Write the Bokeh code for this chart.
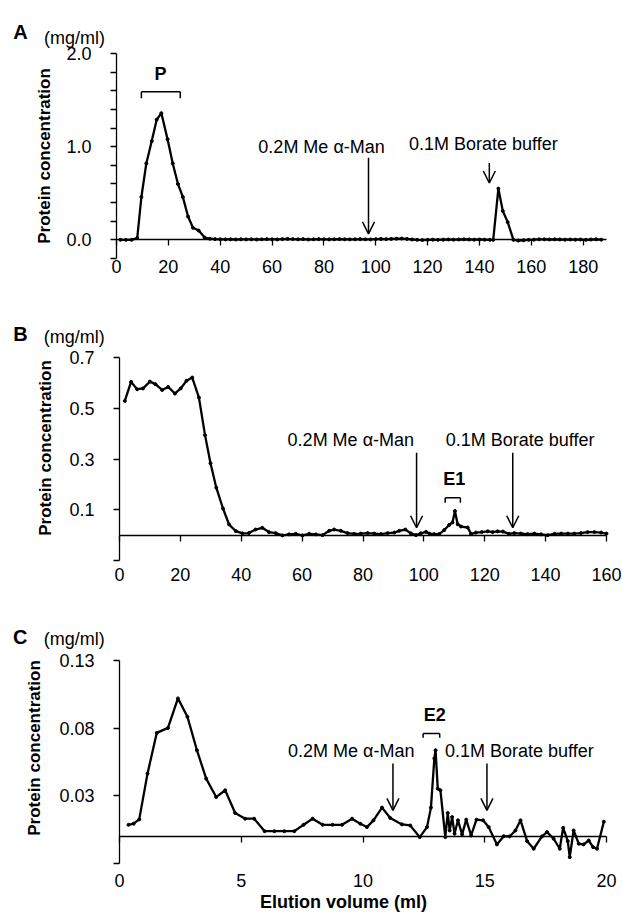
from bokeh.plotting import figure
from bokeh.layouts import column
from bokeh.models import (Range1d, FixedTicker, PrintfTickFormatter, Label, Arrow, OpenHead,
                          LinearAxis)
from bokeh.embed import file_html
from bokeh.resources import INLINE

FONT = "Liberation Sans"
W = 623

# ---------------- data ----------------
A_vol = [1.5, 3.6, 5.8, 8.0, 9.6, 11.5, 13.6, 15.5, 17.3, 19.7, 21.7, 23.7, 25.6, 27.6, 29.5, 31.7, 34.0,
         36, 38, 40, 42, 44, 46, 48, 50, 52, 54, 56, 58, 60, 62, 64, 66, 68, 70, 72, 74, 76, 78, 80, 82, 84,
         86, 88, 90, 92, 94, 96, 98, 100, 102, 104, 106, 108, 110, 112, 114, 116, 118, 120, 122, 124, 126,
         128, 130, 132, 134, 136, 138, 140, 142, 144,
         145.3, 147.3, 149.0, 150.9, 153.1, 155, 157, 159, 161, 163, 165, 167, 169, 171, 173, 175, 177, 179,
         181, 183, 185, 187]
A_conc = [0.0, 0.0, 0.0, 0.02, 0.46, 0.82, 1.06, 1.29, 1.36, 1.08, 0.82, 0.60, 0.46, 0.25, 0.13, 0.10, 0.025,
          0.012, 0.008, 0.006, 0.005, 0.006, 0.004, 0.006, 0.005, 0.006, 0.004,
          0.006, 0.008, 0.006, 0.005, 0.008, 0.010, 0.008, 0.006, 0.008, 0.004,
          0.006, 0.008, 0.006, 0.005, 0.006, 0.008, 0.006, 0.005, 0.006, 0.008,
          0.006, 0.005, 0.008, 0.010, 0.008, 0.010, 0.012, 0.014, 0.010, 0.004,
          0.0, -0.002, 0.0, 0.002, 0.0, 0.002, 0.004, 0.002, 0.004, 0.006,
          0.004, 0.002, 0.004, 0.002, 0.0,
          0.0, 0.55, 0.31, 0.19, 0.0, -0.008, -0.004, 0.0, 0.002, 0.006, 0.006, 0.004, 0.006, 0.004, 0.002,
          0.004, 0.002, 0.004, 0.0, 0.004, 0.006, 0.002]

B_vol = [1.75, 3.8, 5.8, 7.7, 10.0, 11.8, 14.0, 16.0, 18.2, 20.1, 22.0, 23.9, 26.1, 28.1, 29.9, 31.8, 34.0,
         36.0, 38.2, 40.4, 42.5, 44.7, 46.9, 49.1, 51.3, 53.5, 55.7, 57.9, 60.1, 62.3, 64.5, 66.7, 68.9, 70.5,
         72.7, 74.9, 77.1, 79.3, 81.5, 83.7, 85.9, 88.1, 90.3, 91.9, 93.9, 95.7, 97.4, 99.0, 100.7, 101.8,
         103.4, 105.0, 106.7, 108.3, 109.4, 110.2, 111.1, 112.2, 114.4, 115.5, 117.1, 119.0, 121.0, 122.6,
         124.2, 126.0, 128.0, 129.7, 131.9, 134.1, 136.3, 138.5, 140.7, 142.9, 145.1, 147.3, 149.4, 151.6,
         153.8, 156.0, 158.2, 160.0]
B_conc = [0.529, 0.604, 0.575, 0.578, 0.605, 0.595, 0.572, 0.584, 0.558, 0.578, 0.608, 0.621, 0.542, 0.394,
          0.283, 0.187, 0.105, 0.042, 0.016, 0.007, 0.008, 0.022, 0.029, 0.012, 0.008, -0.001, 0.003, 0.005,
          -0.001, 0.005, 0.003, 0.0, 0.017, 0.022, 0.017, 0.008, 0.005, 0.006, 0.008, 0.006, 0.004, 0.008,
          0.010, 0.017, 0.022, 0.007, 0.0, 0.007, 0.013, 0.006, 0.004, 0.004, 0.020, 0.040, 0.050, 0.095,
          0.043, 0.034, 0.030, 0.005, 0.010, 0.012, 0.015, 0.012, 0.015, 0.014, 0.005, 0.008, 0.006, 0.004,
          0.006, 0.003, 0.0, 0.005, 0.006, 0.006, 0.006, 0.008, 0.012, 0.012, 0.010, 0.006]

C_vol = [0.37, 0.58, 0.81, 1.15, 1.53, 1.99, 2.40, 2.79, 3.18, 3.56, 3.97, 4.34, 4.75, 5.16, 5.53, 5.96,
         6.36, 6.77, 7.18, 7.56, 7.93, 8.34, 8.75, 9.14, 9.55, 9.89, 10.16, 10.43, 10.78, 11.12, 11.6, 11.94,
         12.33, 12.63, 12.79, 12.93, 12.98, 13.07, 13.18, 13.38, 13.48, 13.56, 13.66, 13.76, 13.9, 14.07,
         14.24, 14.44, 14.66, 14.93, 15.16, 15.5, 15.78, 16.02, 16.26, 16.47, 16.74, 17.01, 17.35, 17.56,
         17.83, 18.08, 18.22, 18.41, 18.49, 18.65, 18.86, 19.06, 19.27, 19.45, 19.61, 19.89]
C_conc = [0.0086, 0.0094, 0.0126, 0.0464, 0.0765, 0.0802, 0.102, 0.0884, 0.0637, 0.0427, 0.0291, 0.0341,
          0.0173, 0.0131, 0.0131, 0.0039, 0.0039, 0.0039, 0.0039, 0.0086, 0.0131, 0.0086, 0.0086, 0.0086,
          0.0131, 0.0094, 0.0069, 0.0119, 0.0213, 0.0136, 0.0089, 0.0081, -0.0005, 0.0069, 0.0213, 0.0576,
          0.0637, 0.0353, 0.0341, -0.0005, 0.0173, 0.0044, 0.0143, 0.0020, 0.0119, 0.0015, 0.0124, 0.0007,
          0.0124, 0.0119, 0.0069, -0.0059, 0.0002, 0.0, 0.0044, 0.0119, -0.0035, -0.0091, 0.0, 0.0032,
          -0.0017, -0.0091, 0.0064, -0.0035, -0.0153, 0.0044, -0.0054, -0.0059, -0.0030, -0.0079, -0.0091,
          0.0109]

A_xticks = [0, 20, 40, 60, 80, 100, 120, 140, 160, 180]
B_xticks = [0, 20, 40, 60, 80, 100, 120, 140, 160]
C_xticks = [0, 5, 10, 15, 20]
A_yticks = [0.0, 1.0, 2.0]
A_yminor = [-0.2, 0.2, 0.4, 0.6, 0.8, 1.2, 1.4, 1.6, 1.8]
B_yticks = [0.1, 0.3, 0.5, 0.7]
B_yminor = [-0.1]
C_yticks = [0.03, 0.08, 0.13]
C_yminor = [-0.02]

MAN_TEXT = "0.2M Me \u03b1-Man"
BOR_TEXT = "0.1M Borate buffer"
Y_TITLE = "Protein concentration"
X_TITLE = "Elution volume (ml)"
TXT = "18px"


def style_text(ax, size=TXT):
    ax.major_label_text_font = FONT
    ax.major_label_text_font_size = size
    ax.major_label_text_color = "black"


def panel(h, frame_px, data_box, xticks, ymaj, ymin, yfmt, xstandoff, ytitle_bounds, ytitle_standoff):
    # frame_px: (left, right, top, bottom) pixel positions of the axis box inside this figure
    # data_box: (x0, x1, y0, y1) data values at those pixels
    fl, fr, ft, fb = frame_px
    x0, x1, y0, y1 = data_box
    sx = (fr - fl) / (x1 - x0)
    sy = (fb - ft) / (y1 - y0)
    xr = Range1d(x0 - fl / sx, x1 + (W - fr) / sx)
    yr = Range1d(y0 - (h - fb) / sy, y1 + ft / sy)
    p = figure(width=W, height=h, x_range=xr, y_range=yr, output_backend="svg", toolbar_location=None,
               x_axis_location=None, y_axis_location=None, min_border=0)
    p.outline_line_color = None
    p.grid.visible = False

    # y axis with ticks and labels
    ya = LinearAxis(fixed_location=0, bounds=(y0, y1),
                    ticker=FixedTicker(ticks=ymaj, minor_ticks=ymin),
                    formatter=PrintfTickFormatter(format=yfmt))
    ya.axis_line_color = "black"
    ya.axis_line_width = 1.3
    ya.major_tick_line_color = "black"
    ya.minor_tick_line_color = "black"
    ya.major_tick_line_width = 1.3
    ya.minor_tick_line_width = 1.3
    ya.major_tick_out = 6
    ya.major_tick_in = 0
    ya.minor_tick_out = 6
    ya.minor_tick_in = 0
    ya.major_label_standoff = 19
    style_text(ya)
    p.add_layout(ya, "left")

    # y title (own invisible axis so that it can be centred like the original)
    yt = LinearAxis(fixed_location=0, bounds=ytitle_bounds, ticker=FixedTicker(ticks=[]))
    yt.axis_line_color = None
    yt.major_tick_line_color = None
    yt.minor_tick_line_color = None
    yt.major_tick_out = 0
    yt.major_tick_in = 0
    yt.axis_label = Y_TITLE
    yt.axis_label_text_font = FONT
    yt.axis_label_text_font_size = "17px"
    yt.axis_label_text_font_style = "bold"
    yt.axis_label_text_color = "black"
    yt.axis_label_standoff = ytitle_standoff
    p.add_layout(yt, "left")

    # zero line with its tick marks
    za = LinearAxis(fixed_location=0, bounds=(x0, x1), ticker=FixedTicker(ticks=xticks))
    za.axis_line_color = "black"
    za.axis_line_width = 1.3
    za.major_tick_line_color = "black"
    za.major_tick_line_width = 1.3
    za.major_tick_out = 6
    za.major_tick_in = 0
    za.minor_tick_line_color = None
    za.major_label_text_font_size = "0px"
    za.major_label_text_alpha = 0
    p.add_layout(za, "below")

    # x tick labels at the bottom of the y axis
    xa = LinearAxis(fixed_location=y0, bounds=(x0, x1), ticker=FixedTicker(ticks=xticks))
    xa.axis_line_color = None
    xa.major_tick_line_color = None
    xa.minor_tick_line_color = None
    xa.major_tick_out = 0
    xa.major_tick_in = 0
    xa.major_label_standoff = xstandoff
    style_text(xa)
    p.add_layout(xa, "below")
    return p, xa


def trace(p, xs, ys):
    p.line(xs, ys, line_color="black", line_width=2.3)
    p.scatter(xs, ys, size=3, color="black")


def txt(p, x, y, t, size=TXT, bold=False, align="center", baseline="middle"):
    p.add_layout(Label(x=x, y=y, text=t, text_font=FONT, text_font_size=size,
                       text_font_style="bold" if bold else "normal", text_color="black",
                       text_align=align, text_baseline=baseline))


def arrow(p, x, y0, y1):
    p.add_layout(Arrow(x_start=x, y_start=y0, x_end=x, y_end=y1, line_color="black", line_width=1.5,
                       end=OpenHead(size=12, line_color="black", line_width=1.5)))


def bracket(p, x0, x1, y, y_leg):
    p.segment(x0=[x0, x0, x1], y0=[y, y, y], x1=[x1, x0, x1], y1=[y, y_leg, y_leg],
              line_color="black", line_width=1.5)


# ---------------- panel A ----------------
pa, _ = panel(288, (116, 606, 53, 258), (0, 189, -0.2, 2.0), A_xticks, A_yticks, A_yminor, "%.1f", 1,
              (-0.2, 2.0), 63)
trace(pa, A_vol, A_conc)
txt(pa, -39.8, 2.229, "A", size="20px", bold=True, align="left", baseline="alphabetic")
txt(pa, -28.0, 2.161, "(mg/ml)", align="left", baseline="alphabetic")
bracket(pa, 9.6, 24.6, 1.59, 1.52)
txt(pa, 17.0, 1.78, "P", bold=True)
txt(pa, 79.1, 1.0, MAN_TEXT)
arrow(pa, 97.2, 0.88, 0.064)
txt(pa, 141.5, 1.03, BOR_TEXT)
arrow(pa, 143.8, 0.825, 0.61)

# ---------------- panel B ----------------
pb, _ = panel(302, (119, 606, 69, 272), (0, 160, -0.1, 0.7), B_xticks, B_yticks, B_yminor, "%.1f", 7,
              (-0.1, 0.786), 65)
trace(pb, B_vol, B_conc)
txt(pb, -34.9, 0.793, "B", size="20px", bold=True, align="left", baseline="alphabetic")
txt(pb, -24.9, 0.780, "(mg/ml)", align="left", baseline="alphabetic")
txt(pb, 76.0, 0.375, MAN_TEXT)
arrow(pb, 97.6, 0.325, 0.029)
txt(pb, 131.6, 0.375, BOR_TEXT)
arrow(pb, 129.2, 0.325, 0.029)
bracket(pb, 107.0, 112.0, 0.147, 0.128)
txt(pb, 110.0, 0.22, "E1", bold=True)

# ---------------- panel C ----------------
pc, xc = panel(329, (119, 606, 70, 273), (0, 20, -0.02, 0.13), C_xticks, C_yticks, C_yminor, "%.2f", 10,
               (-0.02, 0.1507), 76)
trace(pc, C_vol, C_conc)
txt(pc, -4.37, 0.1472, "C", size="20px", bold=True, align="left", baseline="alphabetic")
txt(pc, -3.11, 0.146, "(mg/ml)", align="left", baseline="alphabetic")
txt(pc, 9.52, 0.063, MAN_TEXT)
arrow(pc, 11.23, 0.0539, 0.0193)
txt(pc, 16.42, 0.063, BOR_TEXT)
arrow(pc, 15.09, 0.0539, 0.0193)
bracket(pc, 12.47, 13.15, 0.076, 0.073)
txt(pc, 12.95, 0.090, "E2", bold=True)
xc.bounds = (-1.6, 20)
xc.axis_label = X_TITLE
xc.axis_label_text_font = FONT
xc.axis_label_text_font_size = "18px"
xc.axis_label_text_font_style = "bold"
xc.axis_label_text_color = "black"
xc.axis_label_standoff = 2

layout = column(pa, pb, pc, spacing=0)
open("out.html", "w").write(file_html(layout, INLINE))
